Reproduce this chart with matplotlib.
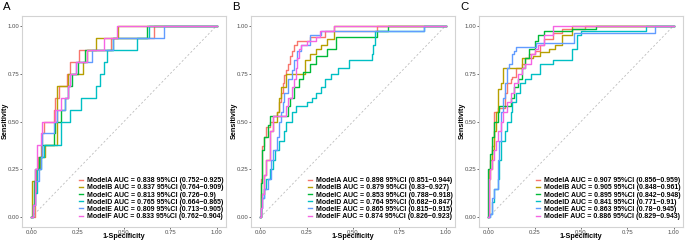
import matplotlib
matplotlib.use("Agg")
import matplotlib.pyplot as plt
from matplotlib.lines import Line2D

plt.rcParams['font.family'] = ['Liberation Sans', 'DejaVu Sans']

models = ["ModelA", "ModelB", "ModelC", "ModelD", "ModelE", "ModelF"]
colors = ["#F8766D", "#B79F00", "#00BA38", "#00BFC4", "#619CFF", "#F564E3"]
panel_letters = ["A", "B", "C"]

# ---- Panel A ROC (fpr at jump, tpr after jump; steps-post) ----
A_fpr = {
    "ModelA": [0, 0.02, 0.025, 0.035, 0.05, 0.06, 0.07, 0.12, 0.13, 0.15, 0.19, 0.21, 0.26, 0.43, 0.66, 1.0],
    "ModelB": [0, 0.005, 0.03, 0.045, 0.075, 0.14, 0.2, 0.28, 0.30, 0.35, 0.47, 1.0],
    "ModelC": [0, 0.01, 0.015, 0.02, 0.04, 0.06, 0.12, 0.13, 0.16, 0.18, 0.2, 0.22, 0.25, 0.29, 0.44, 0.625, 1.0],
    "ModelD": [0, 0.01, 0.02, 0.03, 0.05, 0.07, 0.16, 0.21, 0.27, 0.35, 0.37, 0.39, 0.41, 0.57, 0.635, 1.0],
    "ModelE": [0, 0.01, 0.02, 0.04, 0.05, 0.06, 0.12, 0.14, 0.18, 0.2, 0.21, 0.24, 0.33, 0.44, 0.715, 1.0],
    "ModelF": [0, 0.01, 0.02, 0.03, 0.05, 0.06, 0.13, 0.16, 0.2, 0.21, 0.24, 0.3, 0.39, 0.46, 1.0],
}
A_tpr = {
    "ModelA": [0, 0.125, 0.25, 0.3125, 0.375, 0.4375, 0.5, 0.5625, 0.625, 0.6875, 0.75, 0.8125, 0.875, 0.9375, 1.0, 1.0],
    "ModelB": [0, 0.1875, 0.25, 0.3125, 0.375, 0.6875, 0.75, 0.8125, 0.875, 0.9375, 1.0, 1.0],
    "ModelC": [0, 0.0625, 0.1875, 0.25, 0.3125, 0.375, 0.4375, 0.5, 0.5625, 0.625, 0.6875, 0.75, 0.8125, 0.875, 0.9375, 1.0, 1.0],
    "ModelD": [0, 0.0625, 0.125, 0.25, 0.3125, 0.375, 0.5, 0.5625, 0.625, 0.6875, 0.75, 0.8125, 0.875, 0.9375, 1.0, 1.0],
    "ModelE": [0, 0.0625, 0.1875, 0.25, 0.3125, 0.4375, 0.5, 0.5625, 0.625, 0.6875, 0.75, 0.8125, 0.875, 0.9375, 1.0, 1.0],
    "ModelF": [0, 0.0625, 0.25, 0.375, 0.4375, 0.5, 0.5625, 0.625, 0.6875, 0.75, 0.8125, 0.875, 0.9375, 1.0, 1.0],
}

# ---- Panel B ROC ----
B_fpr = {
    "ModelA": [0, 0.005, 0.01, 0.02, 0.03, 0.05, 0.07, 0.09, 0.1, 0.11, 0.12, 0.13, 0.14, 0.15, 0.16, 0.17, 0.18, 0.2, 0.27, 0.35, 0.63, 1.0],
    "ModelB": [0, 0.005, 0.02, 0.03, 0.05, 0.07, 0.09, 0.1, 0.11, 0.14, 0.19, 0.24, 0.27, 0.3, 0.33, 0.36, 0.4, 1.0],
    "ModelC": [0, 0.003, 0.01, 0.02, 0.04, 0.05, 0.13, 0.15, 0.16, 0.18, 0.21, 0.23, 0.27, 0.3, 0.36, 0.41, 0.63, 0.69, 1.0],
    "ModelD": [0, 0.003, 0.01, 0.02, 0.03, 0.05, 0.07, 0.08, 0.1, 0.13, 0.14, 0.17, 0.19, 0.25, 0.28, 0.3, 0.33, 0.35, 0.38, 0.42, 0.48, 0.6, 0.61, 0.62, 0.885, 1.0],
    "ModelE": [0, 0.005, 0.01, 0.02, 0.04, 0.06, 0.07, 0.09, 0.1, 0.11, 0.12, 0.13, 0.15, 0.17, 0.18, 0.2, 0.22, 0.27, 0.33, 0.885, 1.0],
    "ModelF": [0, 0.005, 0.01, 0.02, 0.03, 0.05, 0.07, 0.12, 0.14, 0.15, 0.17, 0.18, 0.19, 0.2, 0.21, 0.22, 0.25, 0.3, 0.32, 0.4, 1.0],
}
B_tpr = {
    "ModelA": [0, 0.2, 0.37, 0.42, 0.47, 0.5, 0.53, 0.55, 0.6, 0.65, 0.7, 0.74, 0.77, 0.8, 0.84, 0.87, 0.9, 0.92, 0.94, 0.97, 1.0, 1.0],
    "ModelB": [0, 0.12, 0.22, 0.3, 0.45, 0.5, 0.55, 0.62, 0.68, 0.75, 0.75, 0.82, 0.85, 0.88, 0.9, 0.93, 1.0, 1.0],
    "ModelC": [0, 0.18, 0.35, 0.42, 0.48, 0.53, 0.53, 0.58, 0.62, 0.68, 0.72, 0.76, 0.8, 0.84, 0.88, 0.94, 0.97, 1.0, 1.0],
    "ModelD": [0, 0.05, 0.1, 0.15, 0.2, 0.25, 0.3, 0.35, 0.4, 0.45, 0.5, 0.55, 0.58, 0.6, 0.62, 0.65, 0.68, 0.72, 0.75, 0.78, 0.82, 0.85, 0.9, 0.97, 1.0, 1.0],
    "ModelE": [0, 0.05, 0.1, 0.15, 0.2, 0.3, 0.35, 0.42, 0.5, 0.55, 0.6, 0.65, 0.72, 0.77, 0.82, 0.87, 0.9, 0.95, 0.97, 1.0, 1.0],
    "ModelF": [0, 0.05, 0.12, 0.22, 0.3, 0.45, 0.53, 0.53, 0.58, 0.62, 0.68, 0.72, 0.78, 0.83, 0.88, 0.9, 0.92, 0.94, 0.97, 1.0, 1.0],
}

# ---- Panel C ROC ----
C_fpr = {
    "ModelA": [0, 0.005, 0.01, 0.02, 0.03, 0.05, 0.09, 0.1, 0.12, 0.13, 0.15, 0.18, 0.2, 0.22, 0.25, 0.28, 0.3, 0.35, 0.4, 0.52, 1.0],
    "ModelB": [0, 0.005, 0.01, 0.02, 0.03, 0.04, 0.05, 0.07, 0.08, 0.16, 0.18, 0.24, 0.28, 0.33, 0.36, 0.4, 0.45, 1.0],
    "ModelC": [0, 0.0, 0.01, 0.02, 0.03, 0.05, 0.06, 0.12, 0.14, 0.16, 0.18, 0.2, 0.22, 0.25, 0.27, 0.3, 0.45, 0.58, 1.0],
    "ModelD": [0, 0.01, 0.02, 0.03, 0.05, 0.06, 0.07, 0.09, 0.1, 0.12, 0.13, 0.15, 0.17, 0.2, 0.23, 0.28, 0.35, 0.45, 0.48, 0.5, 0.85, 1.0],
    "ModelE": [0, 0.01, 0.02, 0.03, 0.05, 0.06, 0.07, 0.08, 0.09, 0.1, 0.11, 0.13, 0.14, 0.15, 0.26, 0.46, 0.9, 1.0],
    "ModelF": [0, 0.005, 0.01, 0.02, 0.03, 0.04, 0.05, 0.07, 0.08, 0.1, 0.12, 0.14, 0.16, 0.18, 0.2, 0.23, 0.25, 0.27, 0.3, 0.35, 1.0],
}
C_tpr = {
    "ModelA": [0, 0.25, 0.3, 0.37, 0.55, 0.57, 0.65, 0.7, 0.72, 0.73, 0.78, 0.8, 0.83, 0.85, 0.87, 0.9, 0.93, 0.96, 0.98, 1.0, 1.0],
    "ModelB": [0, 0.2, 0.25, 0.35, 0.45, 0.55, 0.67, 0.7, 0.78, 0.78, 0.83, 0.84, 0.86, 0.88, 0.9, 0.95, 1.0, 1.0],
    "ModelC": [0, 0.25, 0.33, 0.42, 0.5, 0.55, 0.58, 0.62, 0.68, 0.72, 0.78, 0.83, 0.88, 0.92, 0.95, 0.97, 0.98, 1.0, 1.0],
    "ModelD": [0, 0.02, 0.08, 0.15, 0.2, 0.3, 0.4, 0.45, 0.5, 0.55, 0.6, 0.65, 0.7, 0.72, 0.75, 0.8, 0.82, 0.88, 0.95, 0.97, 1.0, 1.0],
    "ModelE": [0, 0.02, 0.1, 0.15, 0.3, 0.4, 0.55, 0.62, 0.7, 0.78, 0.8, 0.85, 0.87, 0.89, 0.91, 0.96, 1.0, 1.0],
    "ModelF": [0, 0.2, 0.25, 0.3, 0.35, 0.4, 0.45, 0.5, 0.55, 0.6, 0.65, 0.7, 0.75, 0.78, 0.8, 0.85, 0.88, 0.9, 0.95, 1.0, 1.0],
}

# ---- Legend statistics ----
A_auc = ["0.838", "0.837", "0.813", "0.765", "0.809", "0.833"]
A_ci = ["0.752\u22120.925", "0.764\u22120.909", "0.726\u22120.9", "0.664\u22120.865", "0.713\u22120.905", "0.762\u22120.904"]
B_auc = ["0.898", "0.879", "0.853", "0.764", "0.865", "0.874"]
B_ci = ["0.851\u22120.944", "0.83\u22120.927", "0.788\u22120.918", "0.682\u22120.847", "0.815\u22120.915", "0.826\u22120.923"]
C_auc = ["0.907", "0.905", "0.895", "0.841", "0.863", "0.886"]
C_ci = ["0.856\u22120.959", "0.848\u22120.961", "0.842\u22120.948", "0.771\u22120.91", "0.78\u22120.945", "0.829\u22120.943"]

x_ticks = [0.0, 0.25, 0.5, 0.75, 1.0]
x_ticklabels = ["0.00", "0.25", "0.50", "0.75", "1.00"]
y_ticks = [0.0, 0.25, 0.5, 0.75, 1.0]
y_ticklabels = ["0.00", "0.25", "0.50", "0.75", "1.00"]

W, H = 685, 241
fig = plt.figure(figsize=(W / 100, H / 100), dpi=100)

panels = [
    (A_fpr, A_tpr, A_auc, A_ci, 22),
    (B_fpr, B_tpr, B_auc, B_ci, 251),
    (C_fpr, C_tpr, C_auc, C_ci, 479),
]
box_w, box_top, box_bot = 204, 16, 227

for i, (fpr, tpr, auc, ci, left) in enumerate(panels):
    ax = fig.add_axes([left / W, 1 - box_bot / H, box_w / W, (box_bot - box_top) / H])
    ax.plot([0, 1], [0, 1], color="#BDBDBD", lw=0.6, dashes=(2.5, 2.5), zorder=1)
    for m, c in zip(models, colors):
        ax.plot(fpr[m], tpr[m], drawstyle="steps-post", color=c, lw=1.0, zorder=2)
    ax.set_xlim(-0.05, 1.05)
    ax.set_ylim(-0.05, 1.05)
    ax.set_xticks(x_ticks)
    ax.set_xticklabels(x_ticklabels)
    ax.set_yticks(y_ticks)
    ax.set_yticklabels(y_ticklabels)
    ax.tick_params(axis="both", length=1.5, width=0.5, color="#333333",
                   labelsize=4.3, labelcolor="#4D4D4D", pad=0.6)
    for s in ax.spines.values():
        s.set_color("#D3D3D3")
        s.set_linewidth(0.8)
    handles = [Line2D([], [], color=c, lw=1.0) for c in colors]
    labels = [f"{m} AUC = {a} 95%CI ({c_})" for m, a, c_ in zip(models, auc, ci)]
    ax.legend(handles, labels, loc="lower right",
              bbox_to_anchor=((box_w - 2.5) / box_w, 7.0 / (box_bot - box_top)),
              frameon=False, borderaxespad=0, borderpad=0,
              handlelength=0.6, handletextpad=0.5, labelspacing=0.02,
              prop={"weight": "bold", "size": 5.0})
    # axis titles and panel letters
    cx = (left + box_w / 2) / W
    fig.text(cx, 1 - 240.5 / H, "1-Specificity", ha="center", va="bottom",
             fontsize=5.2, fontweight="bold")
    fig.text((left - 17) / W, 1 - 121 / H, "Sensitivity", ha="center", va="center",
             rotation=90, fontsize=5.2, fontweight="bold")
    fig.text((left - 19) / W, 1 - 7.5 / H, panel_letters[i], ha="left", va="center",
             fontsize=8.2)

fig.savefig("out.png", dpi=100)
